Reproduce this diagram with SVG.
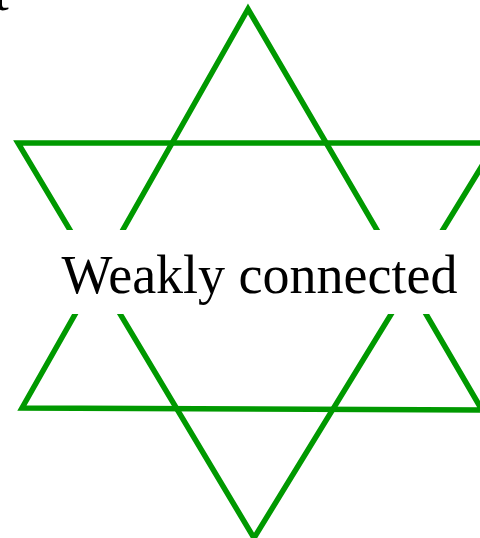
<svg xmlns="http://www.w3.org/2000/svg" width="480" height="538" viewBox="0 0 480 538">
<style>
.tri{fill:none;stroke:#009900;stroke-width:5.5;stroke-linejoin:miter;stroke-miterlimit:10}
.lbl{font-family:"Liberation Serif","Times New Roman",serif;fill:#000}
</style>
<rect width="480" height="538" fill="#fff"/>
<text class="lbl" x="-6" y="10" font-size="53">t</text>
<g id="connectors">
<polygon id="up" class="tri" points="248,9 22,408 482,410"/>
<polygon id="down" class="tri" points="18,143 496,143 254,538"/>
</g>
<g id="node-label">
<rect x="57" y="230" width="405" height="84" fill="#fff"/>
<text class="lbl" x="259.5" y="293" font-size="54" text-anchor="middle">Weakly connected</text>
</g>
</svg>
